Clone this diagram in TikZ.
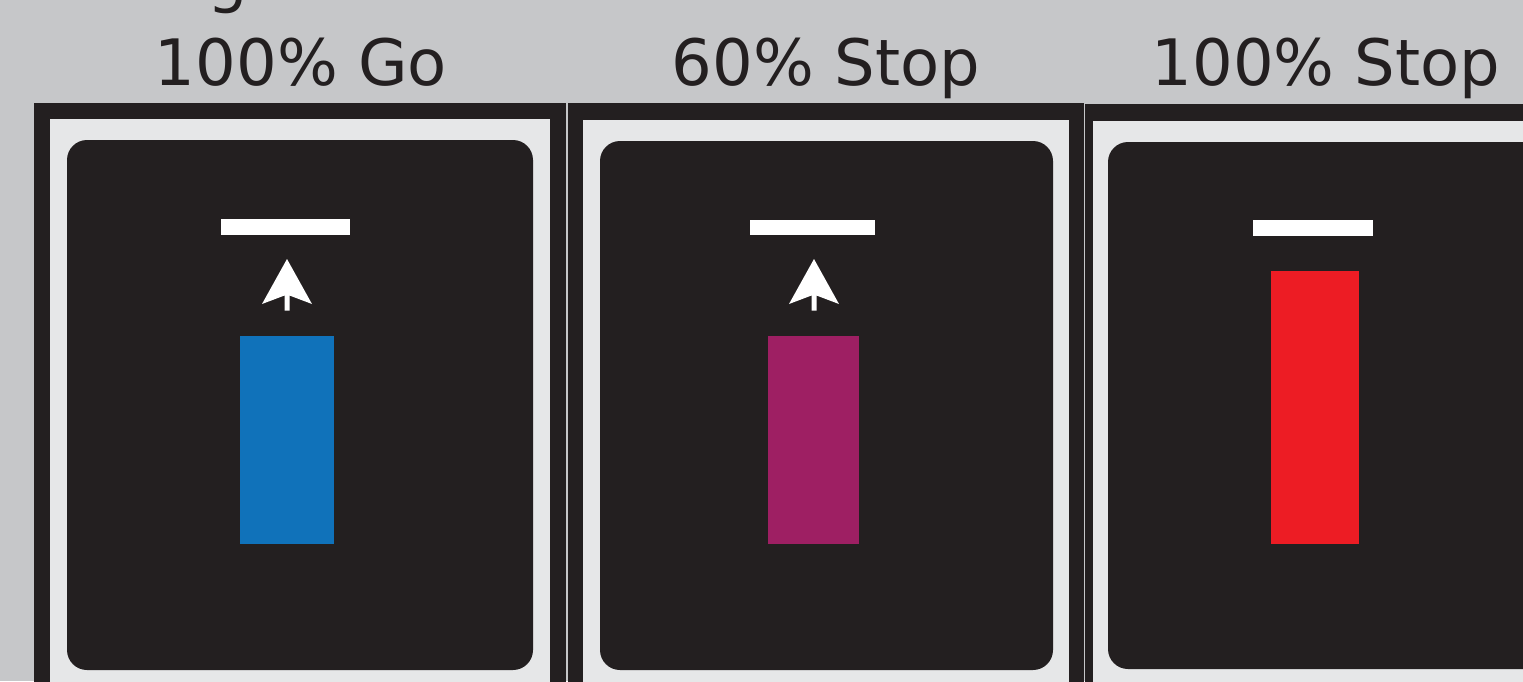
\documentclass[tikz,border=0pt]{standalone}
\usepackage{fontspec}
\setmainfont{DejaVu Sans}
\usetikzlibrary{positioning}
\definecolor{panelgrey}{HTML}{C6C7C9}
\definecolor{framedark}{HTML}{231F20}
\definecolor{framelight}{HTML}{E6E7E8}
\definecolor{gobleu}{HTML}{1072BA}
\definecolor{stopviolet}{HTML}{9E1F63}
\definecolor{stoprouge}{HTML}{ED1C24}

\begin{document}
\begin{tikzpicture}[
  x=0.01cm, y=-0.01cm,
  font=\fontsize{18.2}{22}\selectfont,
  title/.style={anchor=base, inner sep=0pt, text=framedark},
  outer/.style={fill=framedark},
  inner/.style={fill=framelight},
  screen/.style={fill=framedark, rounded corners=0.2cm},
  cue/.style={fill=white}
]
\useasboundingbox (0,0) rectangle (1523,681);
\fill[panelgrey] (0,0) rectangle (1523,681);

% cut-off line above the titles
\node[title, anchor=base west] (cutword) at (207,0) {g};

% panel 1
\node[title] (gotitle) at (301,85) {100\% Go};
\fill[outer] (34,103) rectangle (566,700);
\fill[inner] (50,119) rectangle (550,700);
\fill[screen] (67,140) rectangle (533,670);
\fill[cue] (221,219) rectangle (350,235);
\coordinate (gotip) at (287,259);
\fill[cue] (gotip) -- ++(-25,45) -- ++(22.5,-8.5) -- ++(0,15) -- ++(5,0) -- ++(0,-15) -- ++(22.5,8.5) -- cycle;
\fill[gobleu] (240,336) rectangle (334,544);

% panel 2
\node[title] (parttitle) at (826,85) {60\% Stop};
\fill[outer] (568,103) rectangle (1084,700);
\fill[inner] (583,120) rectangle (1069,700);
\fill[screen] (600,141) rectangle (1053,670);
\fill[cue] (750,220) rectangle (875,235);
\coordinate (parttip) at (814,259);
\fill[cue] (parttip) -- ++(-25,45) -- ++(22.5,-8.5) -- ++(0,15) -- ++(5,0) -- ++(0,-15) -- ++(22.5,8.5) -- cycle;
\fill[stopviolet] (768,336) rectangle (859,544);

% panel 3
\node[title] (stoptitle) at (1326,85) {100\% Stop};
\fill[outer] (1085,104) rectangle (1560,700);
\fill[inner] (1093,121) rectangle (1560,700);
\fill[screen] (1108,142) rectangle (1600,669);
\fill[cue] (1253,220) rectangle (1373,236);
\fill[stoprouge] (1271,271) rectangle (1359,544);
\end{tikzpicture}
\end{document}
